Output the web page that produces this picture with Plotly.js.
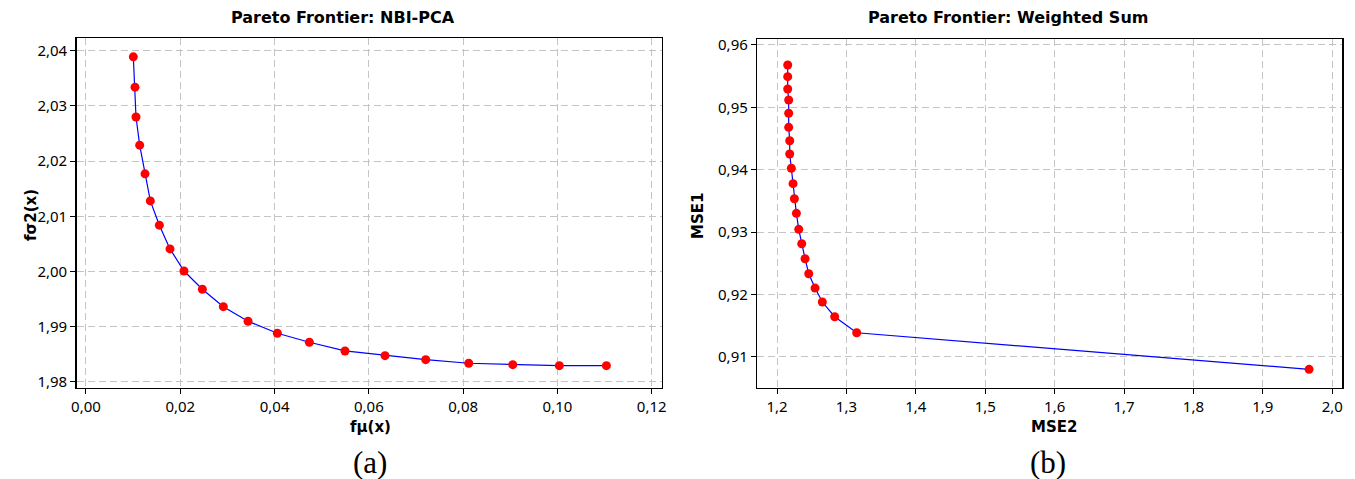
<!DOCTYPE html>
<html>
<head>
<meta charset="utf-8">
<script src="https://cdn.plot.ly/plotly-3.0.1.min.js"></script>
<style>html,body{margin:0;padding:0;background:#fff;}#chart{width:1355px;height:479px;}</style>
</head>
<body>
<div id="chart"></div>
<script>
// Panel (a): NBI-PCA
const nbiX = [0.01004,0.01040,0.01061,0.01139,0.01252,0.01365,0.01556,0.01782,0.02079,0.02468,0.02913,0.03437,0.04059,0.04738,0.05494,0.06343,0.07206,0.08118,0.09052,0.10040,0.11038];
const nbiY = [2.0389,2.0334,2.0280,2.0229,2.0177,2.0128,2.0084,2.0041,2.0001,1.9968,1.99364,1.9910,1.98882,1.98719,1.98562,1.98477,1.98404,1.98339,1.98314,1.98296,1.98296];
// Panel (b): Weighted Sum
const wsX = [1.2154,1.2154,1.2154,1.2168,1.2168,1.2168,1.2183,1.2183,1.2206,1.2231,1.2250,1.2279,1.2313,1.2356,1.2404,1.2457,1.2548,1.2653,1.2831,1.3148,1.9666];
const wsY = [0.95679,0.95491,0.95294,0.95117,0.94904,0.94679,0.94464,0.94251,0.94022,0.93775,0.93534,0.93300,0.93043,0.92812,0.92572,0.92331,0.92101,0.91877,0.91641,0.91384,0.90798];

const titleA = 'Pareto Frontier: NBI-PCA';
const titleB = 'Pareto Frontier: Weighted Sum';
const xLabelA = 'fμ(x)', yLabelA = 'fσ2(x)';
const xLabelB = 'MSE2', yLabelB = 'MSE1';

const BOLD = 'DejaVu Sans, sans-serif';
const TICK = 'Noto Sans, Open Sans, sans-serif';

const trace = (x, y, xa, ya) => ({
  x: x, y: y, xaxis: xa, yaxis: ya, type: 'scatter', mode: 'lines+markers',
  line: {color: '#0000ff', width: 1.2},
  marker: {color: '#ff0000', size: 9, line: {width: 0}},
  hoverinfo: 'none', showlegend: false
});

const axisBase = {
  showline: true, mirror: true, linecolor: '#000', linewidth: 1.5,
  ticks: 'outside', ticklen: 5, tickwidth: 1, tickcolor: '#000',
  showgrid: true, gridcolor: '#c4c4c4', griddash: '7px,4px', gridwidth: 1,
  zeroline: false, tickfont: {family: TICK, size: 15, color: '#000'}
};

const ann = (text, px, py, font, extra) => Object.assign({
  text: text, xref: 'paper', yref: 'paper', x: px / 1355, y: 1 - py / 479,
  xanchor: 'center', yanchor: 'middle', showarrow: false, font: font
}, extra || {});

const titleFont = {family: BOLD, size: 16, color: '#000'};
const labelFont = {family: BOLD, size: 15, color: '#000'};
const capFont = {family: 'Liberation Serif, serif', size: 31, color: '#000'};

const layout = {
  width: 1355, height: 479,
  margin: {l: 0, r: 0, t: 0, b: 0},
  paper_bgcolor: '#fff', plot_bgcolor: '#fff',
  separators: ',.',
  xaxis: Object.assign({}, axisBase, {domain: [0.0566, 0.4883], range: [-0.00197, 0.1221], tickvals: [0,0.02,0.04,0.06,0.08,0.10,0.12], tickformat: '.2f', anchor: 'y'}),
  yaxis: Object.assign({}, axisBase, {domain: [0.190, 0.920], range: [1.97891, 2.04225], tickvals: [1.98,1.99,2.00,2.01,2.02,2.03,2.04], tickformat: '.2f', anchor: 'x'}),
  xaxis2: Object.assign({}, axisBase, {domain: [0.5589, 0.9906], range: [1.1716, 2.0144], tickvals: [1.2,1.3,1.4,1.5,1.6,1.7,1.8,1.9,2.0], tickformat: '.1f', anchor: 'y2'}),
  yaxis2: Object.assign({}, axisBase, {domain: [0.1906, 0.918], range: [0.90503, 0.96091], tickvals: [0.91,0.92,0.93,0.94,0.95,0.96], tickformat: '.2f', anchor: 'x2'}),
  annotations: [
    ann('<b>' + titleA + '</b>', 343, 17, titleFont),
    ann('<b>' + titleB + '</b>', 1008, 17, titleFont),
    ann('<b>' + xLabelA + '</b>', 370, 427, labelFont),
    ann('<b>' + yLabelA + '</b>', 31, 215, labelFont, {textangle: -90}),
    ann('<b>' + xLabelB + '</b>', 1054, 427, labelFont),
    ann('<b>' + yLabelB + '</b>', 698, 216, labelFont, {textangle: -90}),
    ann('(a)', 370, 462, capFont),
    ann('(b)', 1048, 462, capFont)
  ]
};

Plotly.newPlot('chart', [trace(nbiX, nbiY, 'x', 'y'), trace(wsX, wsY, 'x2', 'y2')], layout, {staticPlot: true, displayModeBar: false});
</script>
</body>
</html>
